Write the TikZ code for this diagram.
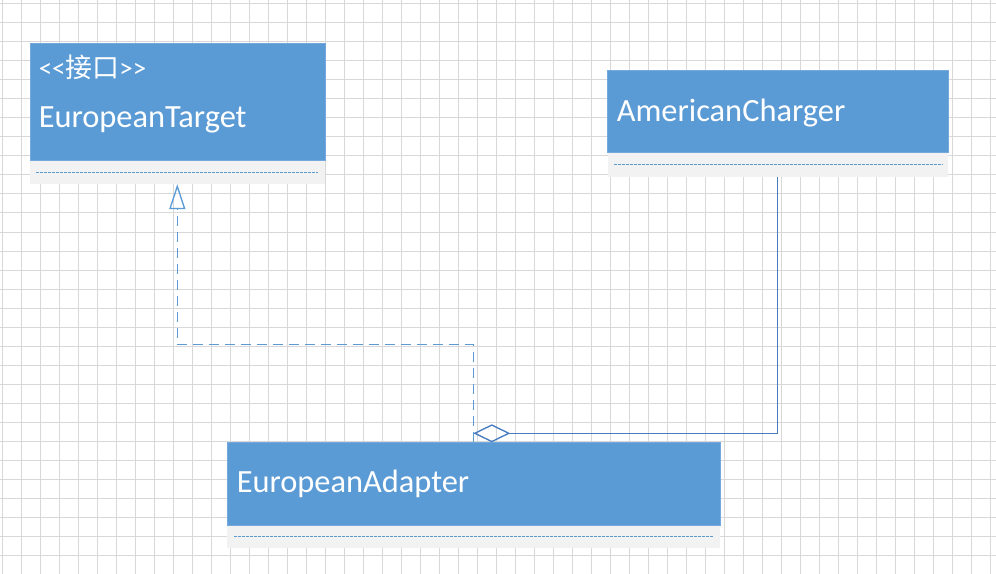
\documentclass[tikz,border=0pt]{standalone}
\usepackage{fontspec}
\setmainfont{Carlito}
\newfontfamily\stereofont{Carlito}[Ligatures=TeXOff]
\newfontfamily\cjk{Noto Sans CJK SC}
\usepackage{xcolor}
\usetikzlibrary{arrows.meta}

\definecolor{headblue}{RGB}{91,155,213}
\definecolor{bodygray}{RGB}{242,242,242}
\definecolor{gridgray}{RGB}{216,216,216}
\definecolor{linkblue}{RGB}{72,124,192}

\tikzset{
  gridline/.style={draw=gridgray, line width=0.75pt},
  classhead/.style={rectangle, fill=headblue, draw=headblue!85!white, line width=0.5pt, inner sep=0pt, anchor=north west},
  classbody/.style={rectangle, fill=bodygray, inner sep=0pt, anchor=north west},
  membersep/.style={draw=headblue, line width=0.75pt, dash pattern=on 2.25pt off 0.75pt},
  classname/.style={anchor=base west, inner sep=0pt, text=white, font=\fontsize{24.3}{28}\selectfont},
  realize/.style={draw=headblue, line width=1pt, dash pattern=on 7.5pt off 4.5pt, -{Triangle[open, length=18.75pt, width=12pt]}},
  aggregate/.style={draw=linkblue, line width=1pt, -{Diamond[open, length=27.75pt, width=13.5pt]}}
}

\begin{document}
\begin{tikzpicture}[x=0.75pt,y=0.75pt,yscale=-1,xscale=1]
\useasboundingbox (0,0) rectangle (996,574);
\fill[white] (0,0) rectangle (996,574);

%Grid
\foreach \i in {0,...,52} {
  \draw[gridline] ({2.7+19*\i},0) -- ({2.7+19*\i},574);
}
\foreach \j in {0,...,30} {
  \draw[gridline] (0,{4+19*\j}) -- (996,{4+19*\j});
}

%Shape: Class EuropeanTarget
\node (tgthead) [classhead, minimum width=221.25pt, minimum height=87.75pt] at (30,43) {};
\node (tgtbody) [classbody, minimum width=221.25pt, minimum height=17.25pt] at (tgthead.south west) {};
\draw[membersep] ([xshift=4.5pt]tgtbody.west) -- ([xshift=-6pt]tgtbody.east);

%Shape: Class AmericanCharger
\node (chghead) [classhead, minimum width=255.3pt, minimum height=61.7pt] at (607.3,70) {};
\node (chgbody) [classbody, minimum width=255.3pt, minimum height=17.5pt] at (chghead.south west) {};
\draw[membersep] ([xshift=5pt]chgbody.west) -- ([xshift=-4.5pt]chgbody.east);

%Shape: Class EuropeanAdapter
\node (adphead) [classhead, minimum width=369.75pt, minimum height=62pt] at (227,442) {};
\node (adpbody) [classbody, minimum width=369.75pt, minimum height=17pt] at (adphead.south west) {};
\draw[membersep] ([xshift=5.5pt]adpbody.west) -- ([xshift=-5pt]adpbody.east);

% Text Node
\node (tgtstereo) [classname, font=\fontsize{20.2}{24}\selectfont] at (38.5,78) {\stereofont <<{\cjk 接口}>>};
% Text Node
\node (tgtname) [classname] at (38.5,128) {EuropeanTarget};
% Text Node
\node (chgname) [classname] at (616.5,121.7) {AmericanCharger};
% Text Node
\node (adpname) [classname] at (236.5,492.7) {EuropeanAdapter};

%Realization EuropeanAdapter -> EuropeanTarget
\coordinate (realR) at (473.3,344.3);
\coordinate (realL) at (177.3,344.3);
\draw[realize] (realR |- adphead.north) -- (realR) -- (realL) -- (realL |- tgtbody.south);

%Aggregation AmericanCharger -> EuropeanAdapter
\coordinate (aggbend) at (777.3,433.3);
\coordinate (aggtip) at (473.3,433.3);
\draw[aggregate] (aggbend |- chgbody.south) -- (aggbend) -- (aggtip);
\end{tikzpicture}
\end{document}
